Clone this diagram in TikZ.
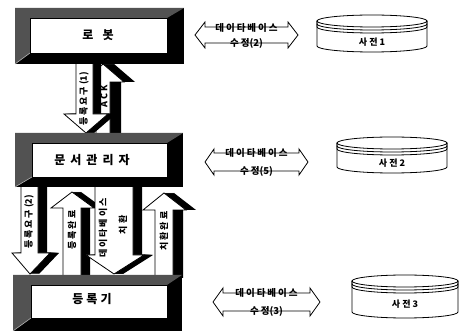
\documentclass[tikz,border=0pt]{standalone}
\usepackage{fontspec}
\setmainfont{Noto Sans CJK KR}
\newcommand\ks{\kern2pt}
\newcommand\kb{\kern5pt}
% outer frame with bevel: x1 y1 x2 y2 ix1 iy1 ix2 iy2
\newcommand\bevelframe[8]{%
  \fill[black] (#1,#2) rectangle (#3,#4);
  \fill[bevelgray] (#1,#2) -- (#3,#2) -- (#7,#6) -- (#5,#6) -- (#5,#8) -- (#1,#4) -- cycle;
  \draw[bevelline] (#1,#4) -- (#5,#8);
  \draw[innerbox] (#5,#6) rectangle (#7,#8);
}
% block arrow: shaftL shaftR headL headR tailY baseY tipY tipX depth
\newcommand\blockarrow[9]{%
  \foreach \s in {1,...,#9}{%
    \fill[black, xshift=\s] (#1,#5) -- (#2,#5) -- (#2,#6) -- (#4,#6) -- (#8,#7) -- (#3,#6) -- (#1,#6) -- cycle;
  }
  \draw[arrowface] (#1,#5) -- (#2,#5) -- (#2,#6) -- (#4,#6) -- (#8,#7) -- (#3,#6) -- (#1,#6) -- cycle;
}
% double arrow outline: lx rx cy shafthalf headhalf headlen
\newcommand\dblarrow[6]{%
  \draw[dbline] (#1,#3) -- ({#1+#6},{#3-#5}) -- ({#1+#6},{#3-#4}) -- ({#2-#6},{#3-#4})
     -- ({#2-#6},{#3-#5}) -- (#2,#3) -- ({#2-#6},{#3+#5}) -- ({#2-#6},{#3+#4})
     -- ({#1+#6},{#3+#4}) -- ({#1+#6},{#3+#5}) -- cycle;
}
% cylinder: cx topcy botcy rx ry
\newcommand\cyl[5]{%
  \draw[cylline, fill=white] ({#1-#4},#2) -- ({#1-#4},#3)
     arc[start angle=180, end angle=0, x radius=#4, y radius=#5] -- ({#1+#4},#2);
  \draw[cylline, fill=white] (#1,#2) ellipse[x radius=#4, y radius=#5];
  \draw[cylline] ({#1-#4},#2) -- ({#1-#4},{#2+3}) arc[start angle=180, end angle=0, x radius=#4, y radius=#5] -- ({#1+#4},#2);
  \draw[cylline] ({#1-#4},{#2+3}) -- ({#1-#4},{#2+6}) arc[start angle=180, end angle=0, x radius=#4, y radius=#5] -- ({#1+#4},{#2+3});
}
\begin{document}
\begin{tikzpicture}[x=1pt, y=-1pt,
  bevelgray/.style={fill=black!68},
  bevelline/.style={draw=white!70!black, line width=0.6pt},
  innerbox/.style={draw=black, fill=white, line width=0.8pt},
  arrowface/.style={draw=black, fill=white, line width=0.8pt, line join=miter},
  dbline/.style={draw=black, line width=0.8pt},
  cylline/.style={draw=black, line width=0.8pt},
  boxlabel/.style={font=\fontsize{12}{14}\selectfont\bfseries, inner sep=0pt},
  dblabel/.style={font=\fontsize{9.5}{11}\selectfont\bfseries, inner sep=0pt},
  cyllabel/.style={font=\fontsize{9}{11}\selectfont\bfseries, inner sep=0pt},
  arrlabel/.style={font=\fontsize{9}{11}\selectfont\bfseries, inner sep=0pt, rotate=90}]
\useasboundingbox (0,0) rectangle (459,331);
\fill[white] (0,0) rectangle (459,331);

% block arrows between robot and document manager
\blockarrow{96}{110}{84}{124}{137}{82}{64}{103}{11}
\blockarrow{76}{93}{64}{108}{60}{114}{133}{86}{8}
% block arrows between document manager and registrar
\blockarrow{21}{38}{12}{50}{183}{253}{274}{30}{9}
\blockarrow{63}{81}{51}{94}{278}{208}{192}{72}{9}
\blockarrow{95}{133}{86}{144}{183}{255}{274}{114}{9}
\blockarrow{155}{173}{143}{186}{278}{210}{193}{164}{10}

% boxes
\bevelframe{15}{8}{184}{64}{30}{18}{167}{53}
\bevelframe{15}{133}{183}{187}{32}{143}{167}{177}
\bevelframe{13}{275}{182}{331}{31}{285}{167}{318}
\node[boxlabel] (robot) at (98,35) {로\kern9pt 봇};
\node[boxlabel] (docmgr) at (92,160) {문\kb 서\kb 관\kb 리\kb 자};
\node[boxlabel] (reg) at (92,299) {등\kern3pt 록\kern3pt 기};

% arrow labels
\node[arrlabel] (req1) at (84,99) {등\ks 록\ks 요\ks 구\ks (1)};
\node[arrlabel] (ack) at (104,96) {A\kern2pt C\kern2pt K};
\node[arrlabel] (req2) at (29,222) {등\ks 록\ks 요\ks 구\ks (2)};
\node[arrlabel] (done1) at (72,230) {등\ks 록\ks 완\ks 료};
\node[arrlabel] (dbrep) at (103,228) {데\ks 이\ks 타\ks 베\ks 이\ks 스};
\node[arrlabel] (rep) at (123,225) {치\ks 환};
\node[arrlabel] (done2) at (164,231) {치\ks 환\ks 완\ks 료};

% double arrows
\dblarrow{195}{298}{35}{8}{13}{10}
\dblarrow{205}{308}{162}{9}{13}{9}
\dblarrow{213}{320}{302}{9}{14}{10}
\node[dblabel] (db1a) at (246.5,28) {데\ks 이\ks 타\ks 베\ks 이\ks 스};
\node[dblabel] (db1b) at (246.5,43) {수\ks 정(2)};
\node[dblabel] (db2a) at (256.5,153) {데\ks 이\ks 타\ks 베\ks 이\ks 스};
\node[dblabel] (db2b) at (256.5,171) {수\ks 정(5)};
\node[dblabel] (db3a) at (266.5,293) {데\ks 이\ks 타\ks 베\ks 이\ks 스};
\node[dblabel] (db3b) at (266.5,311) {수\ks 정(3)};

% dictionaries
\cyl{372}{21}{46}{55}{6}
\cyl{392}{143}{167}{55}{6}
\cyl{405}{281}{312}{53}{6}
\node[cyllabel] (dict1) at (372,42) {사\ks 전\ks 1};
\node[cyllabel] (dict2) at (392,163) {사\ks 전\ks 2};
\node[cyllabel] (dict3) at (405,304) {사\ks 전\ks 3};
\end{tikzpicture}
\end{document}
